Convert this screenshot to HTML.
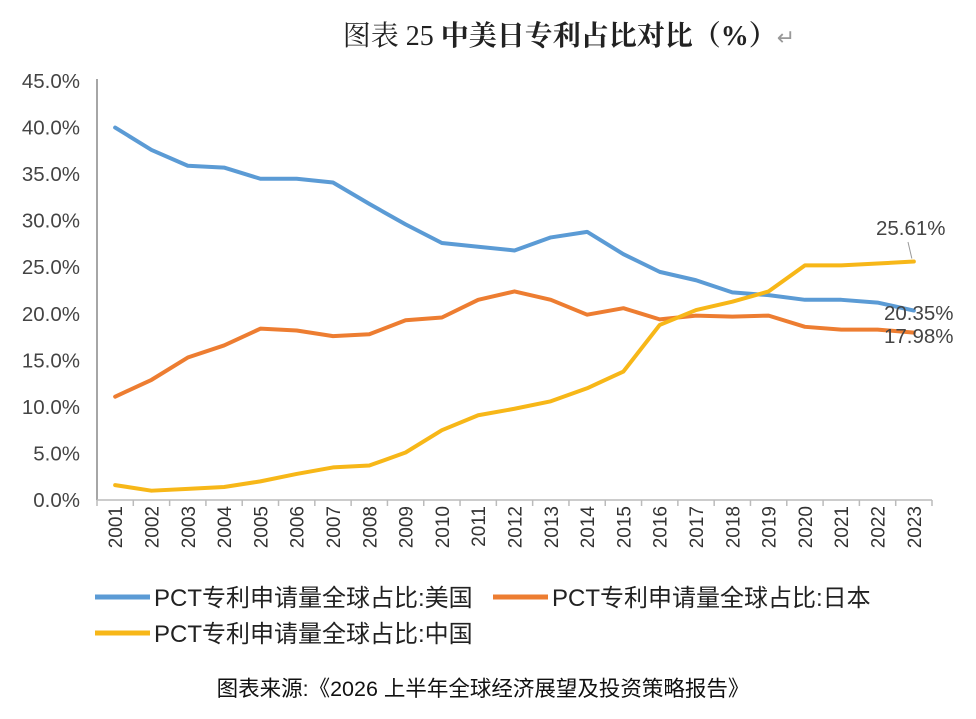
<!DOCTYPE html>
<html><head><meta charset="utf-8">
<style>
html,body{margin:0;padding:0;background:#fff;}
body{width:976px;height:714px;overflow:hidden;}
svg text{font-family:"Liberation Sans","Noto Sans CJK SC",sans-serif;}
</style></head>
<body>
<svg id="chart" width="976" height="714">
<text x="569" y="45" text-anchor="middle" font-size="28" fill="#222" style="font-family:'Liberation Serif','Noto Serif CJK SC',serif">图表 25 <tspan font-weight="bold">中美日专利占比对比（%）</tspan><tspan fill="#999" font-size="22">↵</tspan></text>
<g id="axes"></g>
<g id="series"></g>
<text x="483" y="696" text-anchor="middle" font-size="21.5" fill="#111">图表来源:《2026 上半年全球经济展望及投资策略报告》</text>
</svg>
<script>
const years=["2001","2002","2003","2004","2005","2006","2007","2008","2009","2010","2011","2012","2013","2014","2015","2016","2017","2018","2019","2020","2021","2022","2023"];
const usValues=[40.0,37.6,35.9,35.7,34.5,34.5,34.1,31.8,29.6,27.6,27.2,26.8,28.2,28.8,26.4,24.5,23.6,22.3,22.0,21.5,21.5,21.2,20.35];
const japanValues=[11.1,12.9,15.3,16.6,18.4,18.2,17.6,17.8,19.3,19.6,21.5,22.4,21.5,19.9,20.6,19.4,19.8,19.7,19.8,18.6,18.3,18.3,17.98];
const chinaValues=[1.6,1.0,1.2,1.4,2.0,2.8,3.5,3.7,5.1,7.5,9.1,9.8,10.6,12.0,13.8,18.8,20.4,21.3,22.4,25.2,25.2,25.4,25.61];
const yTicks=[0,5,10,15,20,25,30,35,40,45];
const seriesNames=["PCT专利申请量全球占比:美国","PCT专利申请量全球占比:日本","PCT专利申请量全球占比:中国"];

const NS="http://www.w3.org/2000/svg";
const X0=97,X1=932,Y0=500,Y1=81,YMAX=45;
const step=(X1-X0)/years.length;
const xs=i=>X0+step*(i+0.5);
const ys=v=>Y0-(v/YMAX)*(Y0-Y1);
function mk(tag,attrs,parent){const e=document.createElementNS(NS,tag);for(const k in attrs)e.setAttribute(k,attrs[k]);parent.appendChild(e);return e;}
const axes=document.getElementById('axes'),ser=document.getElementById('series');

const yl=mk('line',{x1:X0,y1:Y1-2,x2:X0,y2:Y0,stroke:'#888','stroke-width':1.5},axes);


const xl=mk('line',{x1:X0,y1:Y0,x2:X1,y2:Y0,stroke:'#bbb','stroke-width':1.5},axes);


yTicks.forEach(t=>{
  const e=mk('text',{x:80,y:ys(t)+7,'text-anchor':'end','font-size':20.5,fill:'#444'},axes);
  e.textContent=t.toFixed(1)+'%';
  
  
});
for(let i=0;i<=years.length;i++){
  const tk=mk('line',{x1:X0+step*i,y1:Y0,x2:X0+step*i,y2:Y0+6,stroke:'#bbb','stroke-width':1.5},axes);
  
  
}
years.forEach((y,i)=>{
  const x=xs(i)+7;
  const e=mk('text',{x:x,y:506,'text-anchor':'end','font-size':19,fill:'#333',transform:`rotate(-90 ${x} 506)`},axes);
  e.textContent=y;
  
  
});

function drawLine(vals,color,name){
  const p=mk('polyline',{points:vals.map((v,i)=>xs(i)+','+ys(v)).join(' '),fill:'none',stroke:color,'stroke-width':4,'stroke-linejoin':'round','stroke-linecap':'round'},ser);
  
  
}
drawLine(usValues,'#5b9bd5','us-line');
drawLine(japanValues,'#ed7d31','japan-line');
drawLine(chinaValues,'#f7b718','china-line');

const last=years.length-1;
const ldr=mk('line',{x1:908,y1:242,x2:xs(last)-2,y2:ys(chinaValues[last])-3,stroke:'#999','stroke-width':1},ser);


function lbl(txt,x,y,name){const e=mk('text',{x:x,y:y,'font-size':20.5,fill:'#444'},ser);e.textContent=txt;
  
  }
lbl(chinaValues[last].toFixed(2)+'%',876,235,'china-end-label');
lbl(usValues[last].toFixed(2)+'%',884,320,'us-end-label');
lbl(japanValues[last].toFixed(2)+'%',884,343,'japan-end-label');

const legendPos=[[95,597],[493,597],[95,633]];
const colors=['#5b9bd5','#ed7d31','#f7b718'];
seriesNames.forEach((n,i)=>{
  const [x,y]=legendPos[i];
  const g=mk('g',{},ser);
  
  
  mk('line',{x1:x,y1:y,x2:x+55,y2:y,stroke:colors[i],'stroke-width':5},g);
  const t=mk('text',{x:x+59,y:y+9,'font-size':24,fill:'#222'},g);
  t.textContent=n;
});
</script>
</body></html>
